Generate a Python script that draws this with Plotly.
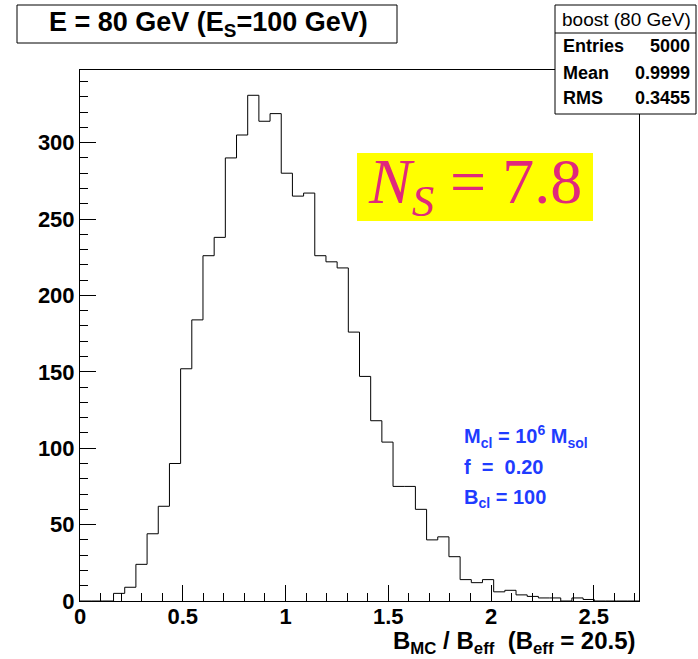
import numpy as np
import plotly.graph_objects as go

# ---- data ----
x_min, x_max, n_bins = 0.0, 2.72, 50
counts = [0, 0, 0, 5, 9, 24, 44, 62, 90, 152, 184, 226, 238, 290, 305, 331, 314, 319,
          280, 265, 267, 226, 222, 218, 176, 147, 118, 104, 75, 75, 60, 40, 42, 29,
          14, 12, 14, 6, 7, 4, 3, 2, 2, 0, 2, 1, 0, 0, 0, 0]
x_ticks = [0, 0.5, 1, 1.5, 2, 2.5]
x_ticklabels = ["0", "0.5", "1", "1.5", "2", "2.5"]
y_ticks = [0, 50, 100, 150, 200, 250, 300]
stats_rows = [("Entries", "5000"), ("Mean", "0.9999"), ("RMS", "0.3455")]
stats_title = "boost (80 GeV)"
title_text = "E = 80 GeV (E<sub>S</sub>=100 GeV)"
ns_text = "<i>N</i><sub><i>S</i></sub> = 7.8"
info_lines = ["M<sub>cl</sub> = 10<sup>6</sup> M<sub>sol</sub>",
              "f\u00a0 =\u00a0 0.20",
              "B<sub>cl</sub> = 100"]
xtitle = "B<sub>MC</sub> / B<sub>eff</sub>\u00a0\u00a0(B<sub>eff</sub> = 20.5)"

edges = np.linspace(x_min, x_max, n_bins + 1)
y_max = max(counts) * 1.05

W, H = 698, 659
L, R, T, B = 80, 59, 70, 58
pw, ph = W - L - R, H - T - B

def px(x):
    return (x - L) / pw

def py(y):
    return (H - B - y) / ph

FONT = "Liberation Sans"

fig = go.Figure()
fig.add_trace(go.Scatter(
    x=list(edges), y=counts + [counts[-1]],
    mode="lines", line=dict(shape="hv", color="black", width=1),
    hoverinfo="skip", showlegend=False))

axis_common = dict(
    showline=True, linecolor="black", linewidth=1, mirror=True,
    ticks="inside", tickcolor="black", tickwidth=1, ticklen=16,
    showgrid=False, zeroline=False,
    tickfont=dict(family=FONT, size=22, color="black", weight="bold"),
)
fig.update_xaxes(range=[x_min, x_max], tickvals=x_ticks, ticktext=x_ticklabels,
                 ticklabelstandoff=-4,
                 minor=dict(dtick=0.1, ticklen=8, ticks="inside", tickcolor="black", showgrid=False),
                 **axis_common)
fig.update_yaxes(range=[0, y_max], tickvals=y_ticks,
                 minor=dict(dtick=10, ticklen=8, ticks="inside", tickcolor="black", showgrid=False),
                 **axis_common)

shapes = []
annotations = []

# title box
shapes.append(dict(type="rect", xref="paper", yref="paper",
                   x0=px(17), x1=px(397), y0=py(5), y1=py(43),
                   line=dict(color="black", width=1), fillcolor="white", layer="above"))
annotations.append(dict(xref="paper", yref="paper", x=px(208), y=py(24),
                        text=title_text, showarrow=False, xanchor="center", yanchor="middle",
                        font=dict(family=FONT, size=27, color="black", weight="bold")))

# stats box
shapes.append(dict(type="rect", xref="paper", yref="paper",
                   x0=px(555), x1=px(696), y0=py(5), y1=py(114),
                   line=dict(color="black", width=1), fillcolor="white", layer="above"))
shapes.append(dict(type="line", xref="paper", yref="paper",
                   x0=px(555), x1=px(696), y0=py(33), y1=py(33),
                   line=dict(color="black", width=1), layer="above"))
annotations.append(dict(xref="paper", yref="paper", x=px(626), y=py(19),
                        text=stats_title, showarrow=False, xanchor="center", yanchor="middle",
                        font=dict(family=FONT, size=19, color="black")))
row_y = [46, 73, 98]
for (k, v), yy in zip(stats_rows, row_y):
    annotations.append(dict(xref="paper", yref="paper", x=px(561), y=py(yy), text=k,
                            showarrow=False, xanchor="left", yanchor="middle",
                            font=dict(family=FONT, size=18, color="black", weight="bold")))
    annotations.append(dict(xref="paper", yref="paper", x=px(692), y=py(yy), text=v,
                            showarrow=False, xanchor="right", yanchor="middle",
                            font=dict(family=FONT, size=18, color="black", weight="bold")))

# N_S box
shapes.append(dict(type="rect", xref="paper", yref="paper",
                   x0=px(357), x1=px(593), y0=py(153), y1=py(221),
                   line=dict(width=0), fillcolor="#ffff00", layer="above"))
annotations.append(dict(xref="paper", yref="paper", x=px(475), y=py(186),
                        text=ns_text, showarrow=False, xanchor="center", yanchor="middle",
                        font=dict(family="Liberation Serif", size=64, color="#e0287c")))

# info text
for line, yy in zip(info_lines, [436, 467, 498]):
    annotations.append(dict(xref="paper", yref="paper", x=px(462), y=py(yy), text=line,
                            showarrow=False, xanchor="left", yanchor="middle",
                            font=dict(family=FONT, size=20, color="#1f3cff", weight="bold")))

# x title
annotations.append(dict(xref="paper", yref="paper", x=px(638), y=py(642), text=xtitle,
                        showarrow=False, xanchor="right", yanchor="middle",
                        font=dict(family=FONT, size=24, color="black", weight="bold")))

fig.update_layout(width=W, height=H, margin=dict(l=L, r=R, t=T, b=B),
                  paper_bgcolor="white", plot_bgcolor="white",
                  shapes=shapes, annotations=annotations, showlegend=False)

fig.write_html("out.html")
